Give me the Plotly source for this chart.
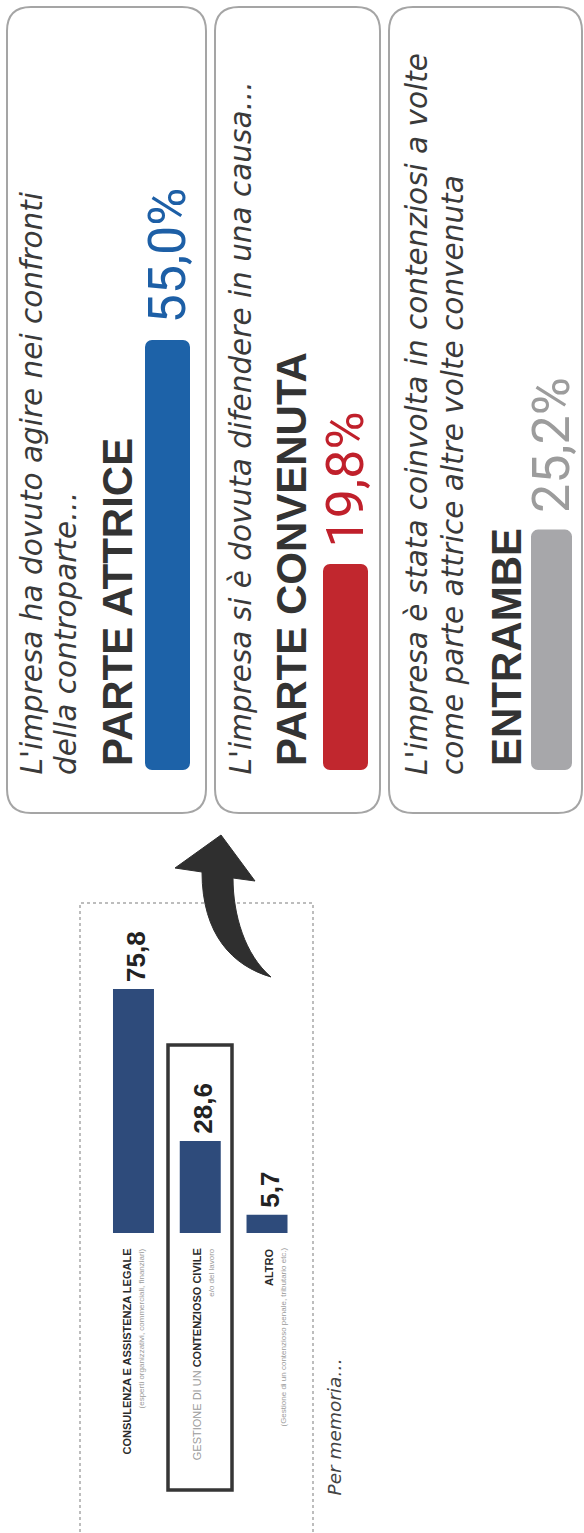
import plotly.graph_objects as go

W, H = 584, 1533

# ---------------- data ----------------
outcome_labels = ["PARTE ATTRICE", "PARTE CONVENUTA", "ENTRAMBE"]
outcome_values = [55.0, 19.8, 25.2]
outcome_text = ["55,0%", "19,8%", "25,2%"]
outcome_notes = [
    ["L'impresa ha dovuto agire nei confronti", "della controparte…"],
    ["L'impresa si è dovuta difendere in una causa…"],
    ["L'impresa è stata coinvolta in contenziosi a volte",
     "come parte attrice altre volte convenuta"],
]

service_labels = ["CONSULENZA E ASSISTENZA LEGALE",
                  "GESTIONE DI UN CONTENZIOSO CIVILE",
                  "ALTRO"]
service_label_html = ["<b>CONSULENZA E ASSISTENZA LEGALE</b>",
                      "<span style='color:#9b9b9b'>GESTIONE DI UN </span><b>CONTENZIOSO CIVILE</b>",
                      "<b>ALTRO</b>"]
service_notes = ["(esperti organizzativi, commerciali, finanziari)",
                 "e/o del lavoro",
                 "(Gestione di un contenzioso penale, tributario etc.)"]
service_values = [75.8, 28.6, 5.7]
service_text = ["75,8", "28,6", "5,7"]

# ---------------- styling ----------------
OUTCOME_COLORS = ["#1d62a8", "#c1272e", "#a7a7aa"]
OUTCOME_TEXT_COLORS = ["#1d5fa6", "#c0202b", "#9c9c9c"]
SERVICE_COLOR = "#2e4b7b"
DARK = "#333333"
ITALIC = dict(family="DejaVu Sans", size=29.5, color="#3a3a3a", style="italic")
TITLE = dict(family="Liberation Sans", size=42, color=DARK, weight="bold")
PCT = dict(family="Roboto", size=52, weight=400)


def px(x):
    return x / W


def py(y):
    return 1 - y / H


# card layout (pixel units)
CARD_X = [(7, 206), (215, 380), (389, 582)]
CARD_TOP, CARD_BOTTOM, CARD_R = 7, 813, 24
BAR_X = [(145, 190), (323, 368), (531, 572)]
NOTE_X = [[31, 66], [240], [417, 453]]
TITLE_X = [117, 291, 506]
TEXT_START = 777
TITLE_START = 768
BAR_BASE_PX, BAR_TOP_PX = 770, 7
PX_PER_UNIT = 6.36
AXIS_FLOOR = -12.6

# left chart layout (pixel units)
BOX = (80, 903, 313, 1545)
SVC_BASE_PX, SVC_TOP_PX = 1233, 903
SVC_PX_PER_UNIT = 3.22
SVC_DOMAIN_X = (100.1, 300.4)
SVC_BAR_FRAC = 0.614
SVC_ROW_SHIFT = [0, 3, 8]
HILITE = (168, 1045, 232, 1490)

fig = go.Figure()

# ---- outcome bars inside the cards ----
for i, (lab, val) in enumerate(zip(outcome_labels, outcome_values)):
    fig.add_trace(go.Bar(
        x=[lab], y=[val - AXIS_FLOOR], base=[AXIS_FLOOR],
        xaxis=f"x{i + 2}", yaxis="y2", width=1,
        marker=dict(color=OUTCOME_COLORS[i], cornerradius=7, line=dict(width=0)),
        hoverinfo="skip", showlegend=False,
    ))

# ---- service bars (left chart) ----
fig.add_trace(go.Bar(
    x=service_labels, y=service_values, xaxis="x", yaxis="y",
    width=SVC_BAR_FRAC, marker=dict(color=SERVICE_COLOR, line=dict(width=0)),
    hoverinfo="skip", showlegend=False,
))

layout_axes = dict(
    xaxis=dict(type="category", domain=[px(SVC_DOMAIN_X[0]), px(SVC_DOMAIN_X[1])],
               range=[-0.5, 2.5], visible=False, anchor="y", fixedrange=True),
    yaxis=dict(domain=[py(SVC_BASE_PX), py(SVC_TOP_PX)],
               range=[0, (SVC_BASE_PX - SVC_TOP_PX) / SVC_PX_PER_UNIT],
               visible=False, anchor="x", fixedrange=True),
    yaxis2=dict(domain=[py(BAR_BASE_PX), py(BAR_TOP_PX)],
                range=[AXIS_FLOOR, AXIS_FLOOR + (BAR_BASE_PX - BAR_TOP_PX) / PX_PER_UNIT],
                visible=False, anchor="x2", fixedrange=True),
)
for i, (b0, b1) in enumerate(BAR_X):
    layout_axes[f"xaxis{i + 2}"] = dict(type="category", domain=[px(b0), px(b1)],
                                        range=[-0.5, 0.5], visible=False,
                                        anchor="y2", fixedrange=True)

annotations = []

# card texts
for i, lab in enumerate(outcome_labels):
    for line, cx in zip(outcome_notes[i], NOTE_X[i]):
        annotations.append(dict(text=line, xref="paper", yref="paper",
                                x=px(cx), y=py(TEXT_START), xanchor="center",
                                yanchor="bottom", textangle=-90, showarrow=False,
                                font=ITALIC))
    annotations.append(dict(text=f"<b>{lab}</b>", xref="paper", yref="paper",
                            x=px(TITLE_X[i]), y=py(TITLE_START), xanchor="center",
                            yanchor="bottom", textangle=-90, showarrow=False,
                            font=TITLE))
    annotations.append(dict(text=outcome_text[i], xref=f"x{i + 2}", yref="y2",
                            x=lab, y=outcome_values[i], xanchor="center",
                            yanchor="bottom", yshift=14, textangle=-90,
                            showarrow=False,
                            font=dict(PCT, color=OUTCOME_TEXT_COLORS[i])))

# left chart texts
for i, lab in enumerate(service_labels):
    annotations.append(dict(text=f"<b>{service_text[i]}</b>", xref="x", yref="y",
                            x=lab, y=service_values[i], xanchor="center",
                            yanchor="bottom", yshift=5, xshift=3, textangle=-90,
                            showarrow=False,
                            font=dict(family="Liberation Sans", size=26, color="#222222")))
    annotations.append(dict(text=service_label_html[i], xref="x", yref="paper",
                            x=lab, y=py(SVC_BASE_PX + 13), xanchor="center",
                            yanchor="top", xshift=SVC_ROW_SHIFT[i] - 6, textangle=-90,
                            showarrow=False,
                            font=dict(family="Liberation Sans", size=11, color="#2b2b2b")))
    annotations.append(dict(text=service_notes[i], xref="x", yref="paper",
                            x=lab, y=py(SVC_BASE_PX + 13), xanchor="center",
                            yanchor="top", xshift=SVC_ROW_SHIFT[i] + 8, textangle=-90,
                            showarrow=False,
                            font=dict(family="Liberation Sans", size=8, color="#9b9b9b")))

annotations.append(dict(text="Per memoria…", xref="paper", yref="paper",
                        x=px(334), y=py(1498), xanchor="center", yanchor="bottom",
                        textangle=-90, showarrow=False,
                        font=dict(family="DejaVu Sans", size=18.5, color="#444444",
                                  style="italic")))


def rounded_rect(x0, y0, x1, y1, r):
    return (f"M {px(x0 + r)},{py(y0)} L {px(x1 - r)},{py(y0)} "
            f"Q {px(x1)},{py(y0)} {px(x1)},{py(y0 + r)} "
            f"L {px(x1)},{py(y1 - r)} Q {px(x1)},{py(y1)} {px(x1 - r)},{py(y1)} "
            f"L {px(x0 + r)},{py(y1)} Q {px(x0)},{py(y1)} {px(x0)},{py(y1 - r)} "
            f"L {px(x0)},{py(y0 + r)} Q {px(x0)},{py(y0)} {px(x0 + r)},{py(y0)} Z")


def path(cmds):
    out = []
    for c in cmds:
        if isinstance(c, str):
            out.append(c)
        else:
            out.append(f"{px(c[0])},{py(c[1])}")
    return " ".join(out)


shapes = []
for (x0, x1) in CARD_X:
    shapes.append(dict(type="path", xref="paper", yref="paper",
                       path=rounded_rect(x0, CARD_TOP, x1, CARD_BOTTOM, CARD_R),
                       line=dict(color="#a5a5a5", width=2), fillcolor="rgba(0,0,0,0)"))

# dotted frame around the left chart
shapes.append(dict(type="rect", xref="paper", yref="paper",
                   x0=px(BOX[0]), x1=px(BOX[2]), y0=py(BOX[3]), y1=py(BOX[1]),
                   line=dict(color="#a8a8a8", width=1.5, dash="dot")))

# highlight frame around the second service
shapes.append(dict(type="rect", xref="paper", yref="paper",
                   x0=px(HILITE[0]), x1=px(HILITE[2]), y0=py(HILITE[3]), y1=py(HILITE[1]),
                   line=dict(color="#363636", width=3.5)))

# curved arrow pointing to the cards
arrow = path(["M", (202, 872), "L", (175, 868), "L", (221, 835), "L", (255, 881),
              "L", (233, 878), "C", (233, 915), (245, 955), (271, 977),
              "C", (233, 966), (202, 935), (202, 872), "Z"])
shapes.append(dict(type="path", xref="paper", yref="paper", path=arrow,
                   line=dict(color="#2f2f2f", width=1), fillcolor="#2f2f2f"))

fig.update_layout(
    width=W, height=H,
    margin=dict(l=0, r=0, t=0, b=0),
    paper_bgcolor="white", plot_bgcolor="rgba(0,0,0,0)",
    showlegend=False, barmode="overlay",
    annotations=annotations, shapes=shapes,
    **layout_axes,
)

fig.write_html("out.html", config={"displayModeBar": False, "staticPlot": True})
